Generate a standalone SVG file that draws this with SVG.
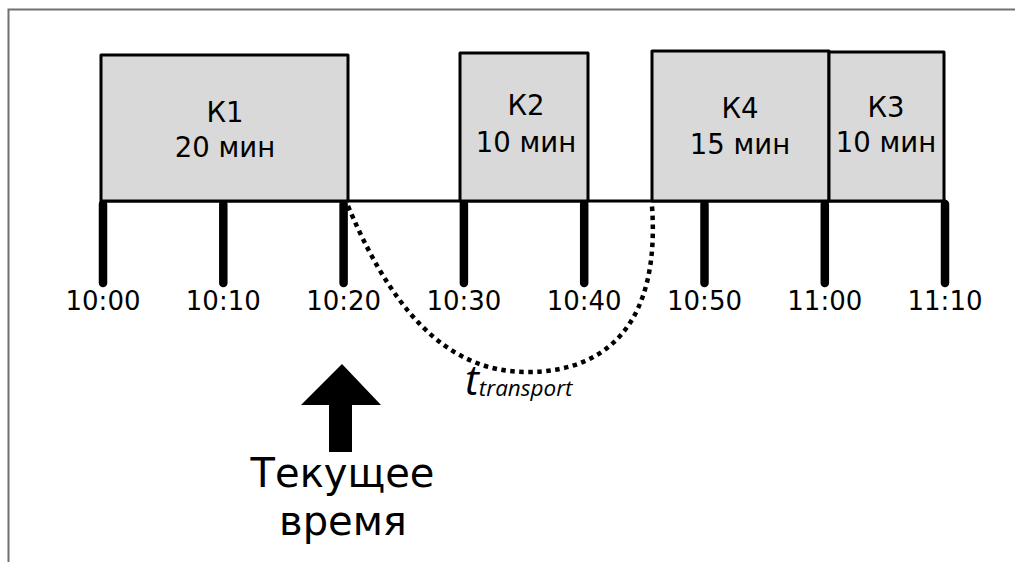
<svg xmlns="http://www.w3.org/2000/svg" width="1015" height="562" viewBox="0 0 1015 562">
  <style>
    .box { fill: #d9d9d9; stroke: #000; stroke-width: 3; stroke-linejoin: round; }
    .tick { stroke: #000; stroke-width: 8.5; stroke-linecap: round; }
    .lbl { font-family: "DejaVu Sans", Verdana, sans-serif; font-size: 26px; fill: #000; text-anchor: middle; }
    .name { font-family: "DejaVu Sans", Verdana, sans-serif; font-size: 27.5px; fill: #000; text-anchor: middle; }
    .big { font-family: "DejaVu Sans", Verdana, sans-serif; font-size: 40px; fill: #000; text-anchor: middle; }
    .ital { font-family: "Open Sans", "DejaVu Sans", sans-serif; font-style: italic; fill: #000; }
  </style>
  <rect width="1015" height="562" fill="#fff"/>
  <!-- frame -->
  <rect x="8.5" y="9.5" width="1100" height="600" fill="none" stroke="#707070" stroke-width="2"/>

  <!-- time axis -->
  <g id="axis">
    <line x1="101" y1="201" x2="946" y2="201" stroke="#000" stroke-width="3"/>
    <line class="tick" x1="103" y1="204" x2="103" y2="283"/>
    <line class="tick" x1="223.3" y1="204" x2="223.3" y2="283"/>
    <line class="tick" x1="343.6" y1="204" x2="343.6" y2="283"/>
    <line class="tick" x1="463.9" y1="204" x2="463.9" y2="283"/>
    <line class="tick" x1="584.2" y1="204" x2="584.2" y2="283"/>
    <line class="tick" x1="704.5" y1="204" x2="704.5" y2="283"/>
    <line class="tick" x1="824.8" y1="204" x2="824.8" y2="283"/>
    <line class="tick" x1="945" y1="204" x2="945" y2="283"/>
    <text class="lbl" x="103" y="310">10:00</text>
    <text class="lbl" x="223.3" y="310">10:10</text>
    <text class="lbl" x="343.6" y="310">10:20</text>
    <text class="lbl" x="463.9" y="310">10:30</text>
    <text class="lbl" x="584.2" y="310">10:40</text>
    <text class="lbl" x="704.5" y="310">10:50</text>
    <text class="lbl" x="824.8" y="310">11:00</text>
    <text class="lbl" x="945" y="310">11:10</text>
  </g>

  <g id="k1">
    <rect class="box" x="101" y="55" width="247" height="146"/>
    <text class="name" x="225" y="122">К1</text>
    <text class="name" x="225" y="157">20 мин</text>
  </g>
  <g id="k2">
    <rect class="box" x="460" y="53" width="128" height="148"/>
    <text class="name" x="526" y="115">К2</text>
    <text class="name" x="526" y="152">10 мин</text>
  </g>
  <g id="k4">
    <rect class="box" x="652" y="51" width="177" height="150"/>
    <text class="name" x="740" y="118">К4</text>
    <text class="name" x="740" y="154">15 мин</text>
  </g>
  <g id="k3">
    <rect class="box" x="829" y="52" width="115" height="149"/>
    <text class="name" x="886" y="117">К3</text>
    <text class="name" x="886" y="152">10 мин</text>
  </g>

  <!-- transport interval -->
  <g id="connectors">
    <path d="M348 206 C400 330 460 372 527 372 C610 372 660 320 652 206" fill="none" stroke="#000" stroke-width="4.5" stroke-dasharray="4.5 4.5"/>
  </g>
  <g id="transport-label">
    <text class="ital" x="465" y="395" font-size="42">t<tspan font-size="22.5" dy="1">transport</tspan></text>
  </g>

  <!-- current time marker -->
  <g id="now">
    <path d="M342 364 L381 405 L352 405 L352 452 L329 452 L329 405 L301 405 Z" fill="#000"/>
    <text class="big" x="342.5" y="487">Текущее</text>
    <text class="big" x="343" y="535">время</text>
  </g>
</svg>
